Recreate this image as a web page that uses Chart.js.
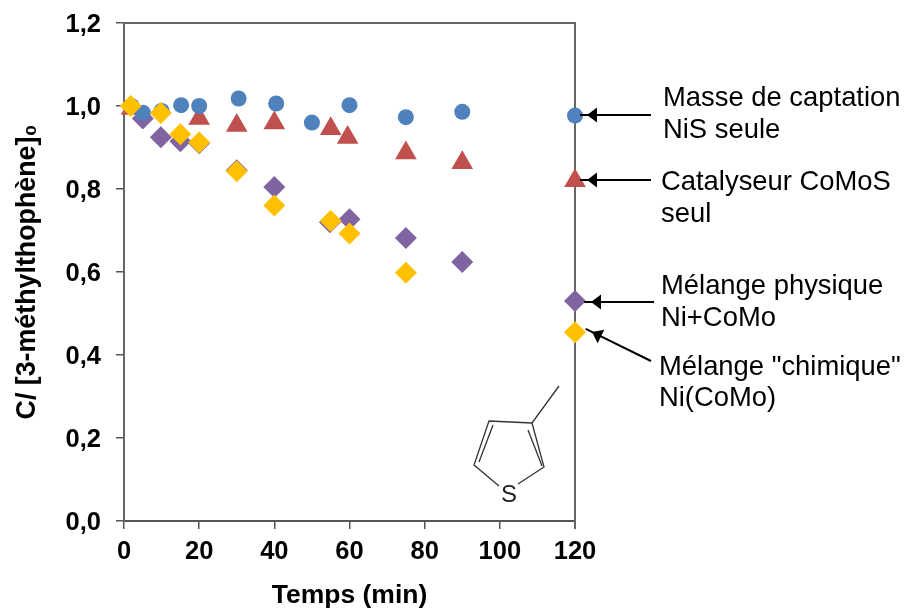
<!DOCTYPE html>
<html><head><meta charset="utf-8">
<style>html,body{margin:0;padding:0;background:#fff}canvas{display:block}#w{position:relative;width:904px;height:609px}</style>
<script src="https://cdn.jsdelivr.net/npm/chart.js@4"></script></head>
<body><div id="w"><canvas id="c" width="904" height="609"></canvas></div>
<script>
const xTicks=[0,20,40,60,80,100,120];
const yTicks=[0,0.2,0.4,0.6,0.8,1.0,1.2];
const tBlue=[2,5,10,15.2,20,30.5,40.5,50,60,75,90,120];
const vBlue=[1.0,0.984,0.988,1.002,1.0,1.018,1.006,0.96,1.002,0.973,0.986,0.977];
const tRed=[2,20,30,40,55,59.5,75,90,120];
const vRed=[0.994,0.97,0.953,0.959,0.945,0.924,0.887,0.863,0.82];
const tPurple=[5,9.8,15,20,30,40,54.8,60,75,90,120];
const vPurple=[0.97,0.925,0.915,0.91,0.845,0.805,0.72,0.727,0.682,0.624,0.53];
const tYellow=[1.8,9.8,15,20,30,40,55,60,75,120];
const vYellow=[1.0,0.983,0.932,0.912,0.843,0.76,0.723,0.693,0.598,0.455];
const zip=(a,b)=>a.map((x,i)=>({x,y:b[i]}));
const labels=[
 ["Masse de captation",663,98],["NiS seule",663,130],
 ["Catalyseur CoMoS",661,182],["seul",661,214],
 ["Mélange physique",661,286],["Ni+CoMo",661,318],
 ["Mélange \"chimique\"",659,367],["Ni(CoMo)",659,398]];
const arrows=[[651,115,587,115],[651,180,587,180],[654,302,591,302],[651,361,592,332]];
const mol=[[[559,386],[532,423],[489,421],[474,465],[499,486]],[[532,423],[544,467],[518,484]],[[493,425],[479,462]],[[528,430],[542,466]]];
const annot={id:'annot',afterDraw(ch){
 const g=ch.ctx;g.save();
 g.fillStyle='#000';g.font='27.4px "Liberation Sans"';g.textBaseline='middle';g.textAlign='left';
 labels.forEach(l=>{g.fillText(l[0],l[1],l[2])});
 g.strokeStyle='#000';g.lineWidth=2;
 arrows.forEach(a=>{const ang=Math.atan2(a[3]-a[1],a[2]-a[0]);
  g.beginPath();g.moveTo(a[0],a[1]);g.lineTo(a[2]+7*Math.cos(ang),a[3]+7*Math.sin(ang));g.stroke();
  g.beginPath();g.moveTo(a[2],a[3]);
  g.lineTo(a[2]-10*Math.cos(ang)+7.5*Math.sin(ang),a[3]-10*Math.sin(ang)-7.5*Math.cos(ang));
  g.lineTo(a[2]-10*Math.cos(ang)-7.5*Math.sin(ang),a[3]-10*Math.sin(ang)+7.5*Math.cos(ang));
  g.closePath();g.fill();});
 g.strokeStyle='#333';g.lineWidth=1.3;
 mol.forEach(p=>{g.beginPath();p.forEach((q,i)=>i?g.lineTo(q[0],q[1]):g.moveTo(q[0],q[1]));g.stroke();});
 g.fillStyle='#222';g.textAlign='center';g.font='24px "Liberation Sans"';g.fillText("S",509,495);
 g.restore();
}};
const frame={id:'frame',beforeDatasetsDraw(ch){const g=ch.ctx,a=ch.chartArea;g.save();g.strokeStyle='#666';g.lineWidth=2;g.beginPath();g.moveTo(a.left,a.top);g.lineTo(a.right,a.top);g.lineTo(a.right,a.bottom+8);g.stroke();g.restore();}};
const mk=(label,t,v,col,style,r,order)=>({label,data:zip(t,v),backgroundColor:col,borderColor:col,borderWidth:0,pointStyle:style,pointRadius:r,showLine:false,clip:false,order});
new Chart(document.getElementById('c'),{type:'scatter',
 data:{datasets:[
  mk('Masse de captation NiS seule',tBlue,vBlue,'#4f81bd','circle',8,1),
  mk('Catalyseur CoMoS seul',tRed,vRed,'#c0504d','triangle',12.5,3),
  mk('Mélange physique Ni+CoMo',tPurple,vPurple,'#8064a2','rectRot',11,2),
  mk('Mélange "chimique" Ni(CoMo)',tYellow,vYellow,'#ffc000','rectRot',11,0)]},
 options:{responsive:false,animation:false,
  layout:{padding:{left:0,right:329,top:23,bottom:0}},
  plugins:{legend:{display:false},tooltip:{enabled:false}},
  scales:{
   x:{type:'linear',min:0,max:120,afterBuildTicks(s){s.ticks=xTicks.map(value=>({value}))},afterFit(s){s.height=88;s.paddingLeft=0;s.paddingRight=0},
    border:{color:'#555',width:2},grid:{display:true,drawOnChartArea:false,drawTicks:true,tickLength:8,color:'#555',lineWidth:1.5},
    ticks:{color:'#000',font:{family:'Liberation Sans',size:25.5,weight:'bold'},padding:8,maxRotation:0,autoSkip:false},
    title:{display:true,text:'Temps (min)',color:'#000',font:{family:'Liberation Sans',size:26.5,weight:'bold',lineHeight:1},padding:{top:0,bottom:0}}},
   y:{type:'linear',min:0,max:1.2,afterBuildTicks(s){s.ticks=yTicks.map(value=>({value}))},afterFit(s){s.width=124;s.paddingTop=0;s.paddingBottom=0},
    border:{color:'#666',width:2},grid:{display:true,drawOnChartArea:false,drawTicks:true,tickLength:8,color:'#555',lineWidth:1.5},
    ticks:{color:'#000',font:{family:'Liberation Sans',size:25.5,weight:'bold'},padding:15,labelOffset:2,callback:v=>v.toFixed(1).replace('.',',')},
    title:{display:true,text:'C/ [3-méthylthophène]₀',color:'#000',font:{family:'Liberation Sans',size:26.8,weight:'bold',lineHeight:1},padding:{top:14,bottom:0}}}
  }},
 plugins:[frame,annot]
});
</script></body></html>
